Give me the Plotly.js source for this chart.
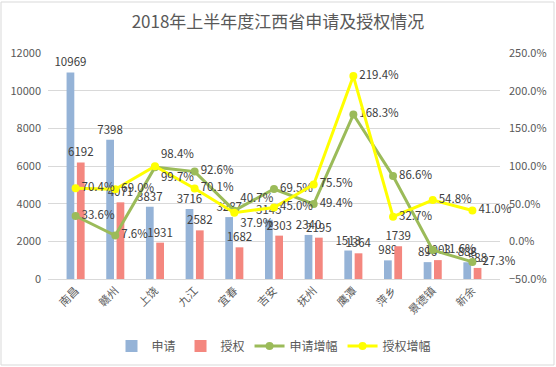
<!DOCTYPE html>
<html><head><meta charset="utf-8">
<script src="https://cdn.plot.ly/plotly-3.0.1.min.js"></script>
<style>html,body{margin:0;padding:0;background:#fff;}#c{width:556px;height:367px;}</style>
</head><body><div id="c"></div>
<script>
const cities = ['南昌','赣州','上饶','九江','宜春','吉安','抚州','鹰潭','萍乡','景德镇','新余'];
const applications = [10969, 7398, 3837, 3716, 3287, 3145, 2340, 1513, 989, 896, 888];
const grants = [6192, 4071, 1931, 2582, 1682, 2303, 2195, 1364, 1739, 1003, 588];
const appGrowth = [0.336, 0.076, 0.984, 0.926, 0.407, 0.695, 0.494, 1.683, 0.866, -0.116, -0.273];
const grantGrowth = [0.704, 0.690, 0.997, 0.701, 0.379, 0.450, 0.755, 2.194, 0.327, 0.548, 0.410];

const appPos = cities.map((c,i)=> (i===2||i===4) ? 'top right' : 'middle right');
const grantPos = cities.map((c,i)=> (i===2||i===4) ? 'bottom right' : 'middle right');

const txtFont = {family:'"Noto Sans CJK SC", "Noto Sans", sans-serif', size:11.5, color:'#404040'};
const traces = [
  {type:'bar', name:'申请', x:cities, y:applications, marker:{color:'#95b3d7'},
   text:applications.map(String), textposition:'outside', textangle:0, constraintext:'none', textfont:txtFont, cliponaxis:false},
  {type:'bar', name:'授权', x:cities, y:grants, marker:{color:'#f4877f'},
   text:grants.map(String), textposition:'outside', textangle:0, constraintext:'none', textfont:txtFont, cliponaxis:false},
  {type:'scatter', name:'申请增幅', x:cities, y:appGrowth, yaxis:'y2', mode:'lines+markers+text',
   line:{color:'#9bbb59', width:3}, marker:{color:'#9bbb59', size:8},
   text:appGrowth.map(v=>(v*100).toFixed(1)+'%'), textposition:appPos, textfont:txtFont, cliponaxis:false},
  {type:'scatter', name:'授权增幅', x:cities, y:grantGrowth, yaxis:'y2', mode:'lines+markers+text',
   line:{color:'#ffff00', width:3}, marker:{color:'#ffff00', size:8},
   text:grantGrowth.map(v=>(v*100).toFixed(1)+'%'), textposition:grantPos, textfont:txtFont, cliponaxis:false}
];
const layout = {
  width:556, height:367,
  margin:{l:48, r:56, t:53, b:88, autoexpand:false},
  paper_bgcolor:'#fff', plot_bgcolor:'#fff',
  font:{family:'"Noto Sans CJK SC", "Noto Sans", sans-serif', color:'#595959', size:11},
  title:{text:'2018年上半年度江西省申请及授权情况', x:0.5, xanchor:'center', y:0.94, yanchor:'middle',
    font:{size:17, color:'#595959'}},
  barmode:'group', bargap:0.48, bargroupgap:0.25,
  xaxis:{tickangle:-45, showline:true, linecolor:'#d9d9d9', linewidth:1, ticks:'', automargin:false,
    tickfont:{size:11, color:'#595959'}},
  yaxis:{range:[0,12000], dtick:2000, tickformat:'d', gridcolor:'#d9d9d9', zeroline:false, showline:false, ticks:'',
    automargin:false, tickfont:{size:11, color:'#595959'}, ticklabelstandoff:6},
  yaxis2:{overlaying:'y', side:'right', range:[-0.5,2.5], dtick:0.5, tickformat:'.1%', showgrid:false, zeroline:false,
    automargin:false, showline:false, ticks:'', tickfont:{size:11, color:'#595959'}, ticklabelstandoff:8},
  legend:{orientation:'h', x:0.5, xanchor:'center', yref:'container', y:21/367, yanchor:'middle',
    font:{size:12, color:'#595959'}, traceorder:'normal', itemwidth:30},
  showlegend:true,
  shapes:[{type:'rect', xref:'paper', yref:'paper', x0:-47/452, x1:(452+54)/452, y0:-86/226, y1:(226+51)/226,
    line:{color:'#d9d9d9', width:1}}]
};
Plotly.newPlot('c', traces, layout, {displayModeBar:false, staticPlot:true});
</script></body></html>
